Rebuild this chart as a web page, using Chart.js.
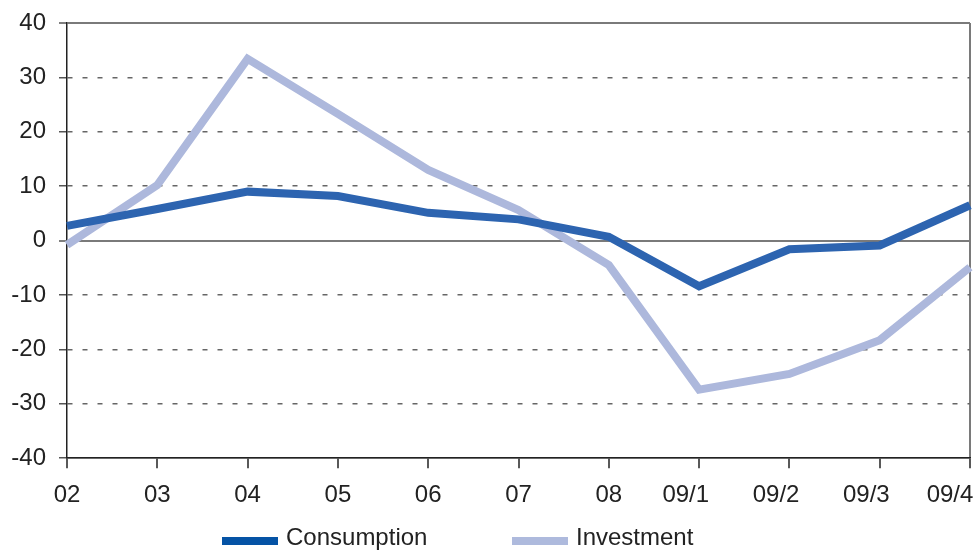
<!DOCTYPE html>
<html>
<head>
<meta charset="utf-8">
<script src="https://cdn.jsdelivr.net/npm/chart.js@4/dist/chart.umd.min.js"></script>
<style>
  html, body { margin: 0; padding: 0; background: #fff; }
  #wrap { position: relative; width: 976px; height: 551px; }
  #legend { position: absolute; left: 0; top: 0; width: 976px; height: 551px; pointer-events: none;
            font-family: "Liberation Sans", Arial, Helvetica, sans-serif; font-size: 24px; color: #222; }
  .item { position: absolute; top: 525px; height: 24px; line-height: 24px; white-space: nowrap; }
  .swatch { position: absolute; left: 0; top: 12px; width: 56px; height: 8px; }
  .label { position: absolute; left: 64px; top: 0; }
</style>
</head>
<body>
<div id="wrap">
  <canvas id="c" width="976" height="551"></canvas>
  <div id="legend"></div>
</div>
<script>
const categories = ["02", "03", "04", "05", "06", "07", "08", "09/1", "09/2", "09/3", "09/4"];
const seriesNames = ["Consumption", "Investment"];
const consumption = [2.7, 5.8, 9.0, 8.2, 5.1, 3.9, 0.7, -8.4, -1.6, -0.9, 6.5];
const investment = [-0.8, 10.2, 33.4, 23.3, 13.0, 5.6, -4.5, -27.4, -24.5, -18.3, -4.9];
const yTicks = [-40, -30, -20, -10, 0, 10, 20, 30, 40];

const lineColors = ["#2d64b0", "#adb8dc"];
const legendColors = ["#0553a5", "#aebadd"];
const legendLeft = [222, 512];

// HTML legend built from series names
const lg = document.getElementById('legend');
seriesNames.forEach((name, i) => {
  const it = document.createElement('div');
  it.className = 'item';
  it.style.left = legendLeft[i] + 'px';
  const sw = document.createElement('span');
  sw.className = 'swatch';
  sw.style.background = legendColors[i];
  const tx = document.createElement('span');
  tx.className = 'label';
  tx.textContent = name;
  it.appendChild(sw); it.appendChild(tx);
  lg.appendChild(it);
});

const font = { family: '"Liberation Sans", Arial, Helvetica, sans-serif', size: 24 };

new Chart(document.getElementById('c'), {
  type: 'line',
  data: {
    labels: categories,
    datasets: [
      { label: seriesNames[0], data: consumption, borderColor: lineColors[0], backgroundColor: legendColors[0],
        borderWidth: 8, pointRadius: 0, tension: 0, borderJoinStyle: 'miter', fill: false },
      { label: seriesNames[1], data: investment, borderColor: lineColors[1], backgroundColor: legendColors[1],
        borderWidth: 8, pointRadius: 0, tension: 0, borderJoinStyle: 'miter', fill: false }
    ]
  },
  options: {
    responsive: false,
    animation: false,
    devicePixelRatio: 1,
    layout: { padding: { left: 11, right: 6, top: 23, bottom: 28 } },
    plugins: { legend: { display: false }, tooltip: { enabled: false } },
    scales: {
      x: {
        offset: false,
        grid: {
          drawOnChartArea: true,
          color: (ctx) => (ctx.index === categories.length - 1 ? '#7a7a7a' : 'rgba(0,0,0,0)'),
          lineWidth: 2,
          tickColor: '#222',
          tickLength: 10,
          tickWidth: 1.5
        },
        border: { display: true, color: '#222', width: 1.5 },
        ticks: {
          font: font, color: '#222', padding: 13, maxRotation: 0, autoSkip: false,
          callback: function (v, i) {
            const s = categories[i];
            if (s.length <= 2) return s;
            return s + (i === categories.length - 1 ? '      ' : '    ');
          }
        },
        afterFit: (scale) => { scale.paddingLeft = 0; scale.paddingRight = 0; }
      },
      y: {
        min: -40, max: 40,
        afterBuildTicks: (scale) => { scale.ticks = yTicks.map(v => ({ value: v })); },
        afterFit: (scale) => { scale.width = 56; scale.paddingTop = 0; scale.paddingBottom = 0; },
        grid: {
          color: (ctx) => (ctx.tick && (ctx.tick.value === 0 || ctx.tick.value === 40) ? '#7a7a7a' : '#666'),
          lineWidth: (ctx) => (ctx.tick && (ctx.tick.value === 0 || ctx.tick.value === 40) ? 2 : 1.5),
          tickColor: '#555',
          tickLength: 8,
          tickWidth: 1.5
        },
        border: {
          display: true, color: '#222', width: 1.5,
          dash: (ctx) => (!ctx.tick || ctx.tick.value === 0 || ctx.tick.value === 40 || ctx.tick.value === -40 ? [] : [5, 10])
        },
        ticks: { font: font, color: '#222', padding: 13 }
      }
    }
  }
});
</script>
</body>
</html>
